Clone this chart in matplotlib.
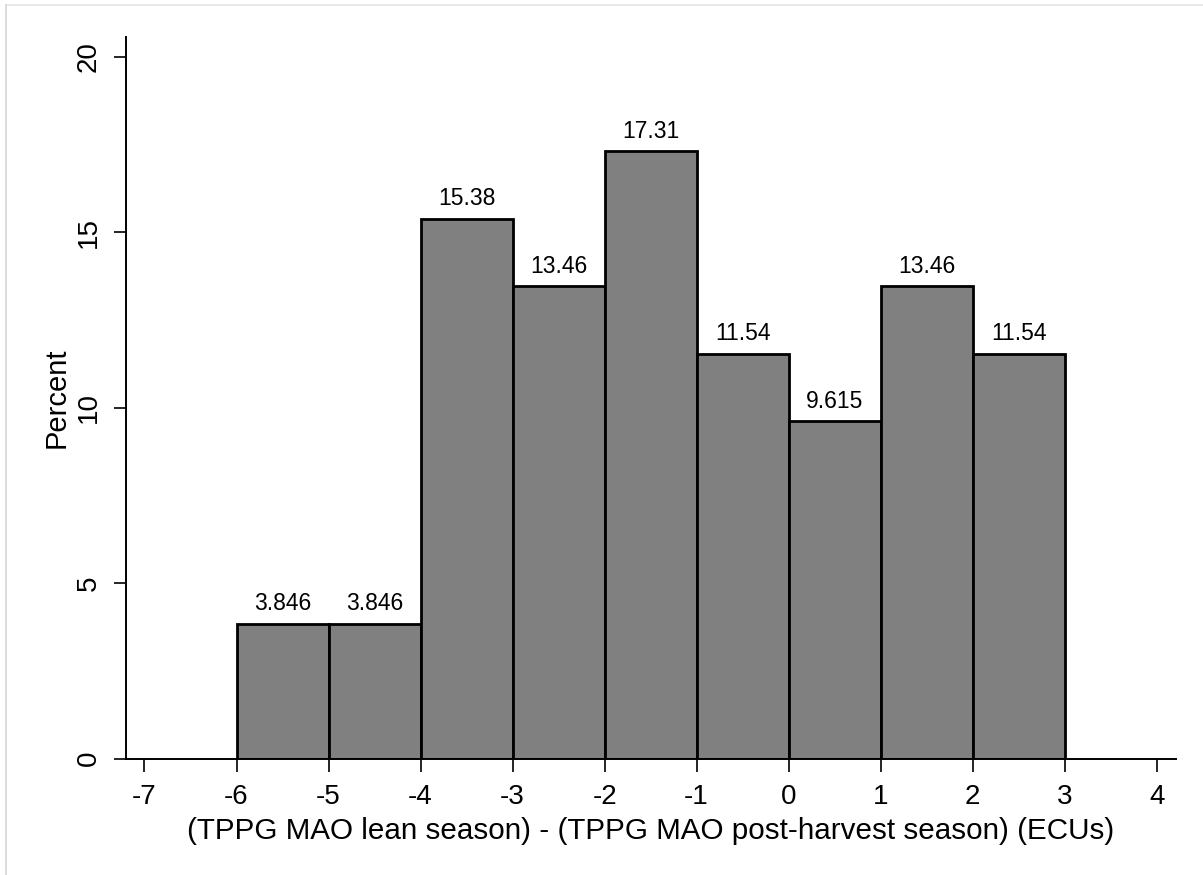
import numpy as np
import matplotlib.pyplot as plt
from matplotlib.lines import Line2D

# bin edges and percent per bin
bin_edges = [-6, -5, -4, -3, -2, -1, 0, 1, 2, 3]
percents = [3.846, 3.846, 15.38, 13.46, 17.31, 11.54, 9.615, 13.46, 11.54]
bar_labels = ["3.846", "3.846", "15.38", "13.46", "17.31", "11.54", "9.615", "13.46", "11.54"]
x_ticks = [-7, -6, -5, -4, -3, -2, -1, 0, 1, 2, 3, 4]
y_ticks = [0, 5, 10, 15, 20]

plt.rcParams['font.family'] = ['Liberation Sans', 'DejaVu Sans']

fig = plt.figure(figsize=(12.03, 8.75), dpi=100)
ax = fig.add_axes([0.1045, 0.1329, 0.8731, 0.8245])

lefts = np.array(bin_edges[:-1])
widths = np.diff(bin_edges)
bars = ax.bar(lefts, percents, width=widths, align='edge',
              color='#808080', edgecolor='black', linewidth=2.0, zorder=2)

for b, lab in zip(bars, bar_labels):
    ax.annotate(lab, (b.get_x() + b.get_width() / 2, b.get_height()),
                xytext=(0, 6), textcoords='offset points',
                ha='center', va='bottom', fontsize=16.5)

ax.set_xlim(-7.204, 4.21)
ax.set_ylim(0, 20.55)
ax.set_xticks(x_ticks)
ax.set_yticks(y_ticks)
ax.set_xticklabels([str(t) for t in x_ticks], fontsize=20)
ax.set_yticklabels([str(t) for t in y_ticks], fontsize=20, rotation=90, va='center')
ax.tick_params(axis='both', length=9, width=1.2, color='black')
ax.tick_params(axis='x', pad=9)
ax.tick_params(axis='y', pad=8)

for side in ['top', 'right']:
    ax.spines[side].set_visible(False)
for side in ['left', 'bottom']:
    ax.spines[side].set_linewidth(1.4)

ax.set_xlabel('(TPPG MAO lean season) - (TPPG MAO post-harvest season) (ECUs)', fontsize=21.3, labelpad=5)
ax.set_ylabel('Percent', fontsize=21, labelpad=4)

# faint frame lines at top and left edge
fig.add_artist(Line2D([0.005, 1.0], [0.994, 0.994], transform=fig.transFigure,
                      color='#e6e6e6', linewidth=1.2))
fig.add_artist(Line2D([0.005, 0.005], [0.0, 0.994], transform=fig.transFigure,
                      color='#d6d6d6', linewidth=1.2))

fig.savefig('out.png', dpi=100)
